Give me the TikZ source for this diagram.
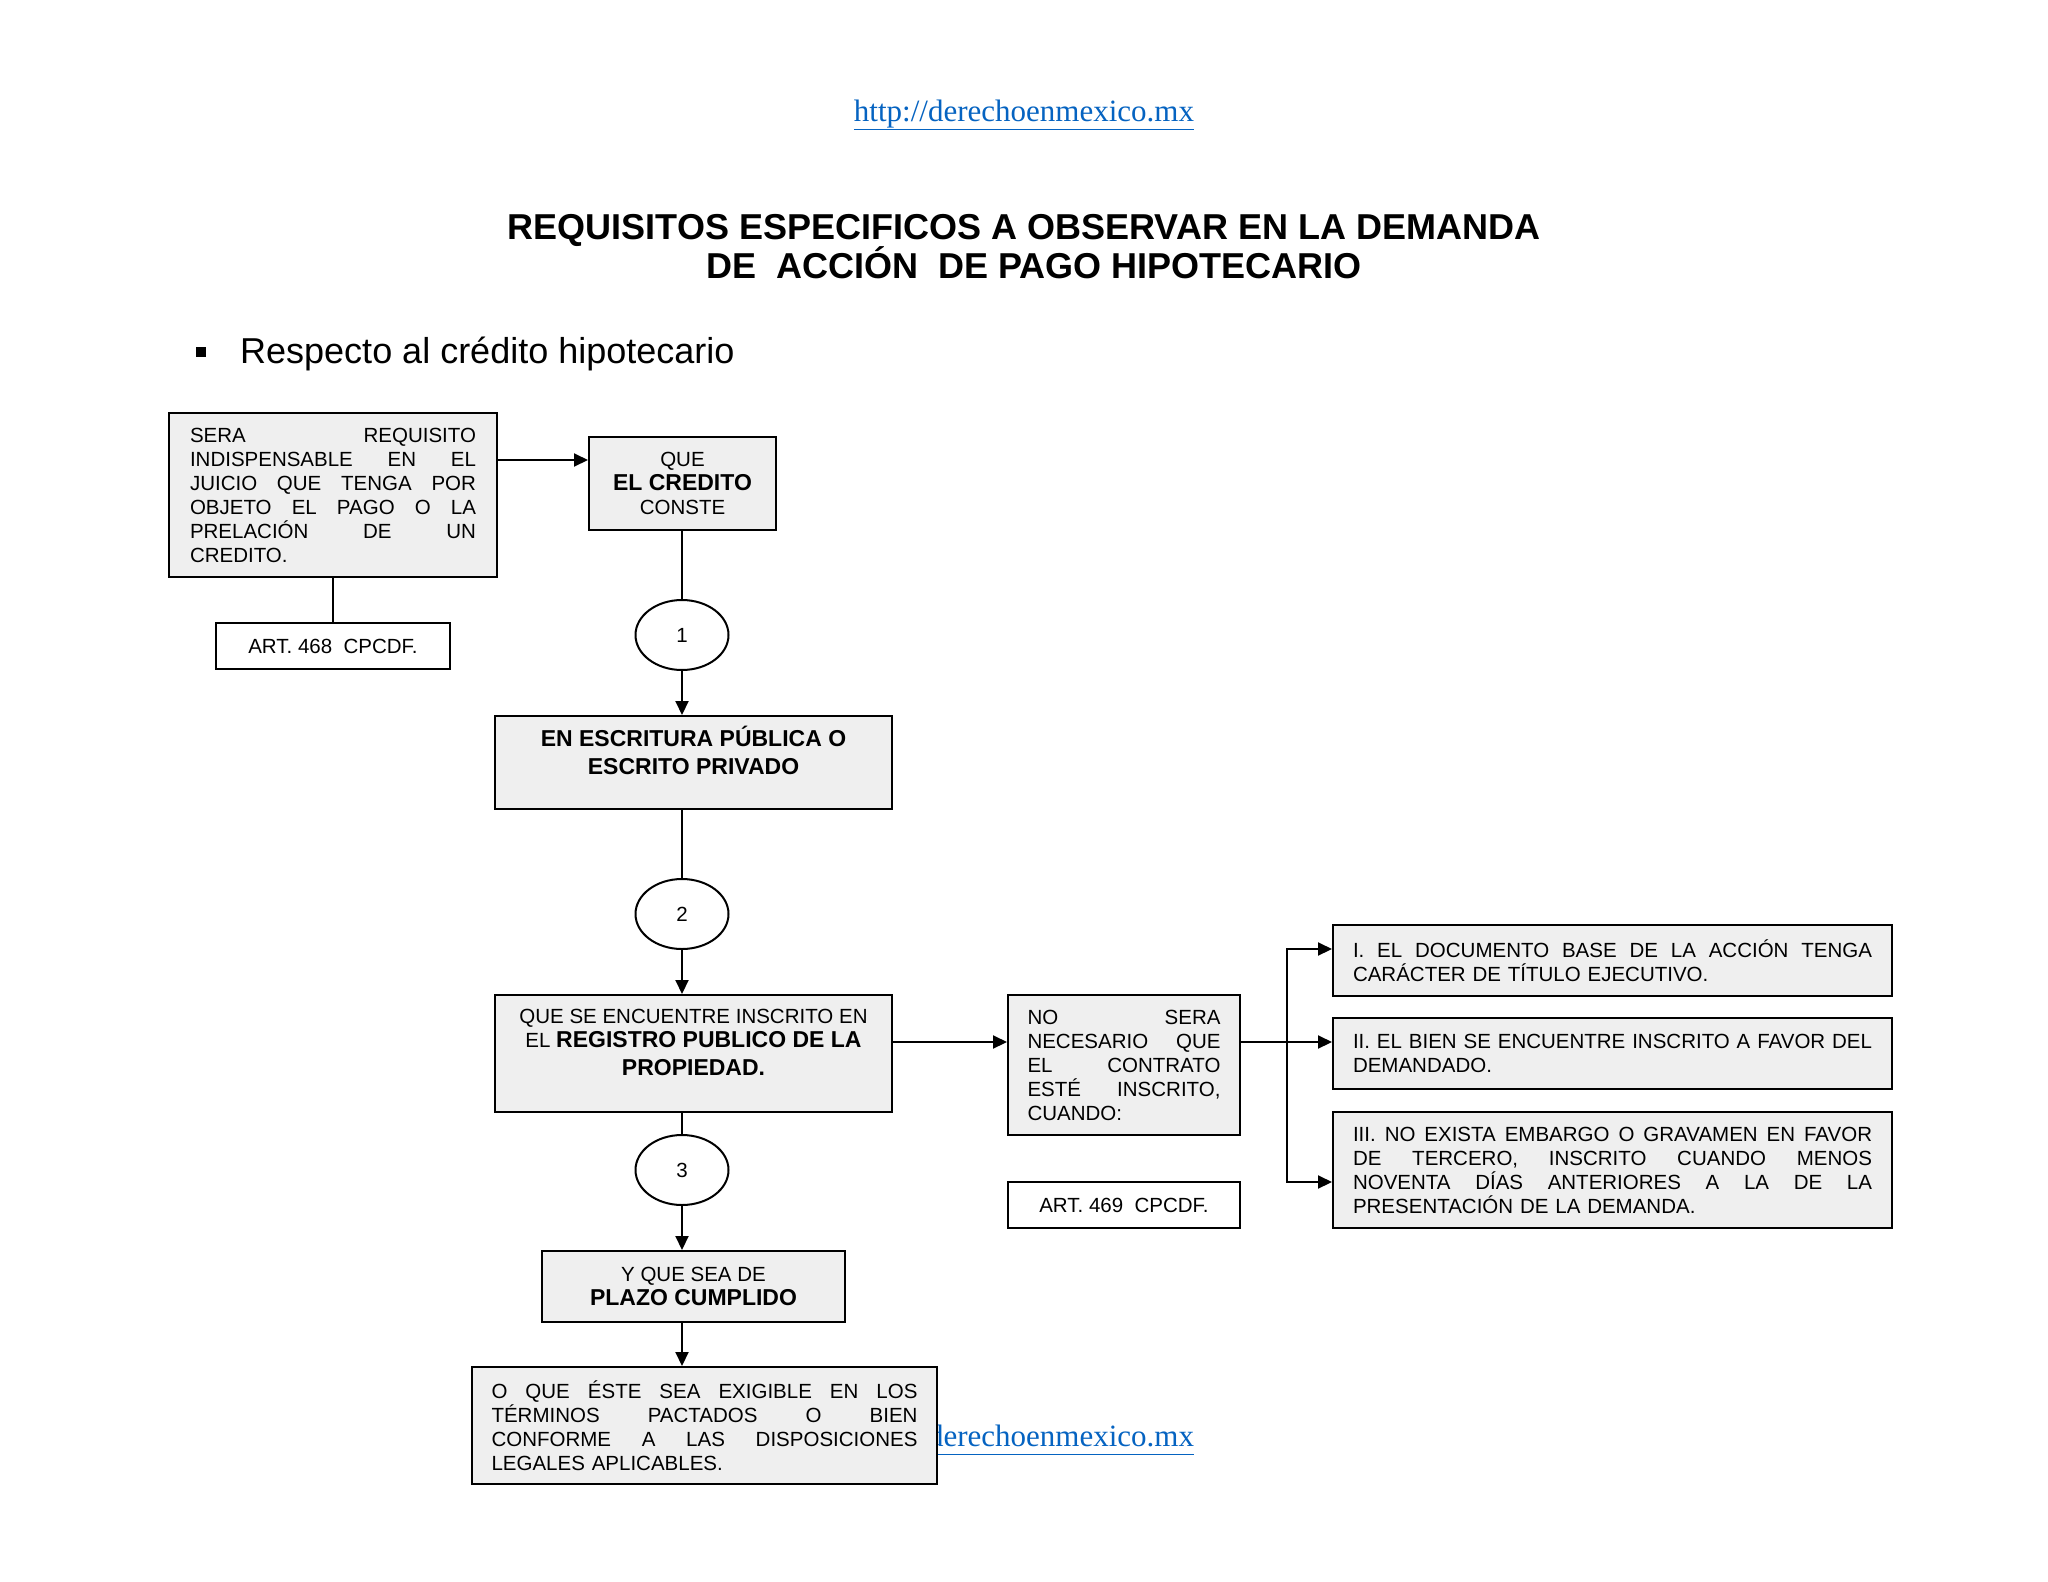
\documentclass[tikz,border=0pt]{standalone}
\usepackage{fontspec}
\setmainfont{Liberation Sans}
\newfontfamily\urlserif{Liberation Serif}
\usetikzlibrary{arrows.meta,shapes.geometric}
\definecolor{boxgray}{RGB}{239,239,239}
\definecolor{urlblue}{RGB}{5,99,193}
\newcommand{\jl}[2]{\leavevmode\hbox to #1{#2}}
\newcommand{\hf}{\hfill}
\begin{document}
\begin{tikzpicture}[x=1pt,y=-1pt,
  box/.style={draw, line width=2pt, fill=boxgray, inner sep=0pt, align=center,
    font=\fontsize{20.5}{24}\selectfont},
  artbox/.style={draw, line width=2pt, fill=white, inner sep=0pt,
    font=\fontsize{20.5}{24}\selectfont},
  num/.style={draw, ellipse, line width=2pt, fill=white, minimum width=93pt,
    minimum height=70pt, inner sep=0pt, font=\fontsize{20.5}{24}\selectfont},
  conn/.style={line width=2pt},
  arr/.style={conn, -{Triangle[length=14pt,width=13pt]}},
  urltext/.style={font=\urlserif\fontsize{31}{36}\selectfont, text=urlblue, inner sep=0pt},
  titletext/.style={font=\bfseries\fontsize{36}{41}\selectfont, inner sep=0pt}
]
\fill[white] (0,0) rectangle (2048,1582);
\useasboundingbox (0,0) rectangle (2048,1582);

% header
\node[urltext, anchor=base] (url1) at (1024,121) {\underline{http://derechoenmexico.mx}};
\node[titletext, anchor=base] (t1) at (1024,239) {REQUISITOS ESPECIFICOS A OBSERVAR EN LA DEMANDA};
\node[titletext, anchor=base] (t2) at (1034,278) {DE\ \ ACCIÓN\ \ DE PAGO HIPOTECARIO};
\node[fill=black, minimum size=10pt, inner sep=0pt] (bul) at (201,352) {};
\node[font=\fontsize{36}{42}\selectfont, anchor=base west, inner sep=0pt] (bt) at (240,363) {Respecto al crédito hipotecario};

% left column
\node[box, minimum width=328pt, minimum height=164pt, text width=286pt, align=left] (b1) at (333,495)
  {\jl{286pt}{SERA\hf REQUISITO}\\\jl{286pt}{INDISPENSABLE\hf EN\hf EL}\\\jl{286pt}{JUICIO\hf QUE\hf TENGA\hf POR}\\\jl{286pt}{OBJETO\hf EL\hf PAGO\hf O\hf LA}\\\jl{286pt}{PRELACIÓN\hf DE\hf UN}\\CREDITO.};
\node[artbox, minimum width=234pt, minimum height=46pt] (a468) at (333,646) {ART. 468\ \ CPCDF.};

\node[box, minimum width=187pt, minimum height=93pt] (que) at (682.5,483.5)
  {QUE\\{\bfseries\fontsize{23}{25}\selectfont EL CREDITO}\\CONSTE};
\node[num] (c1) at (682,635) {1};
\node[box, minimum width=397pt, minimum height=93pt, font=\bfseries\fontsize{23}{28}\selectfont] (esc) at (693.5,762.5)
  {EN ESCRITURA PÚBLICA O\\ESCRITO PRIVADO\rule[-25pt]{0pt}{0pt}};
\node[num] (c2) at (682,914) {2};
\node[box, minimum width=397pt, minimum height=117pt] (reg) at (693.5,1053.5)
  {QUE SE ENCUENTRE INSCRITO EN\\EL {\bfseries\fontsize{23}{28}\selectfont REGISTRO PUBLICO DE LA}\\[4pt]{\bfseries\fontsize{23}{28}\selectfont PROPIEDAD.}\rule[-22pt]{0pt}{0pt}};
\node[num] (c3) at (682,1170) {3};
\node[box, minimum width=303pt, minimum height=71pt] (yq) at (693.5,1286.5)
  {Y QUE SEA DE\\{\bfseries\fontsize{23}{28}\selectfont PLAZO CUMPLIDO}};

\node[urltext, anchor=base] (url2) at (1024,1446) {\underline{http://derechoenmexico.mx}};
\node[box, minimum width=465pt, minimum height=117pt, text width=426pt, align=left] (oq) at (704.5,1425.5)
  {\jl{426pt}{O\hf QUE\hf ÉSTE\hf SEA\hf EXIGIBLE\hf EN\hf LOS}\\\jl{426pt}{TÉRMINOS\hf PACTADOS\hf O\hf BIEN}\\\jl{426pt}{CONFORME\hf A\hf LAS\hf DISPOSICIONES}\\LEGALES APLICABLES.};

% middle
\node[box, minimum width=232pt, minimum height=140pt, text width=193pt, align=left] (ns) at (1124,1065)
  {\jl{193pt}{NO\hf SERA}\\\jl{193pt}{NECESARIO\hf QUE}\\\jl{193pt}{EL\hf CONTRATO}\\\jl{193pt}{ESTÉ\hf INSCRITO,}\\CUANDO:};
\node[artbox, minimum width=232pt, minimum height=46pt] (a469) at (1124,1205) {ART. 469\ \ CPCDF.};

% right column
\node[box, minimum width=559pt, minimum height=71pt, text width=519pt, align=left] (bI) at (1612.5,960.5)
  {\jl{519pt}{I.\hf EL\hf DOCUMENTO\hf BASE\hf DE\hf LA\hf ACCIÓN\hf TENGA}\\CARÁCTER DE TÍTULO EJECUTIVO.};
\node[box, minimum width=559pt, minimum height=71pt, text width=519pt, align=left] (bII) at (1612.5,1053.5)
  {\jl{519pt}{II.\hf EL\hf BIEN\hf SE\hf ENCUENTRE\hf INSCRITO\hf A\hf FAVOR\hf DEL}\\DEMANDADO.};
\node[box, minimum width=559pt, minimum height=116pt, text width=519pt, align=left] (bIII) at (1612.5,1170)
  {\jl{519pt}{III.\hf NO\hf EXISTA\hf EMBARGO\hf O\hf GRAVAMEN\hf EN\hf FAVOR}\\\jl{519pt}{DE\hf TERCERO,\hf INSCRITO\hf CUANDO\hf MENOS}\\\jl{519pt}{NOVENTA\hf DÍAS\hf ANTERIORES\hf A\hf LA\hf DE\hf LA}\\PRESENTACIÓN DE LA DEMANDA.};

% connectors
\draw[arr] ([yshift=35pt]b1.east) coordinate (p1) -- (p1 -| que.west);
\draw[conn] (b1.south) -- (a468.north);
\draw[conn] (que.south -| c1) -- (c1.north);
\draw[arr] (c1.south) -- (c1.south |- esc.north);
\draw[conn] (esc.south -| c2) -- (c2.north);
\draw[arr] (c2.south) -- (c2.south |- reg.north);
\draw[conn] (reg.south -| c3) -- (c3.north);
\draw[arr] (c3.south) -- (c3.south |- yq.north);
\draw[arr] (yq.south -| c3) -- (c3 |- oq.north);
\draw[arr] ([yshift=11.5pt]reg.east) coordinate (p2) -- (p2 -| ns.west);
\draw[arr] ([yshift=23pt]ns.east) coordinate (p3) -- (p3 -| bII.west);
\coordinate (brtop) at (1287,949);
\coordinate (brbot) at (1287,1182);
\draw[arr] (brbot) -- (brtop) -- (brtop -| bI.west);
\draw[arr] (brtop) -- (brbot) -- (brbot -| bIII.west);
\end{tikzpicture}
\end{document}
